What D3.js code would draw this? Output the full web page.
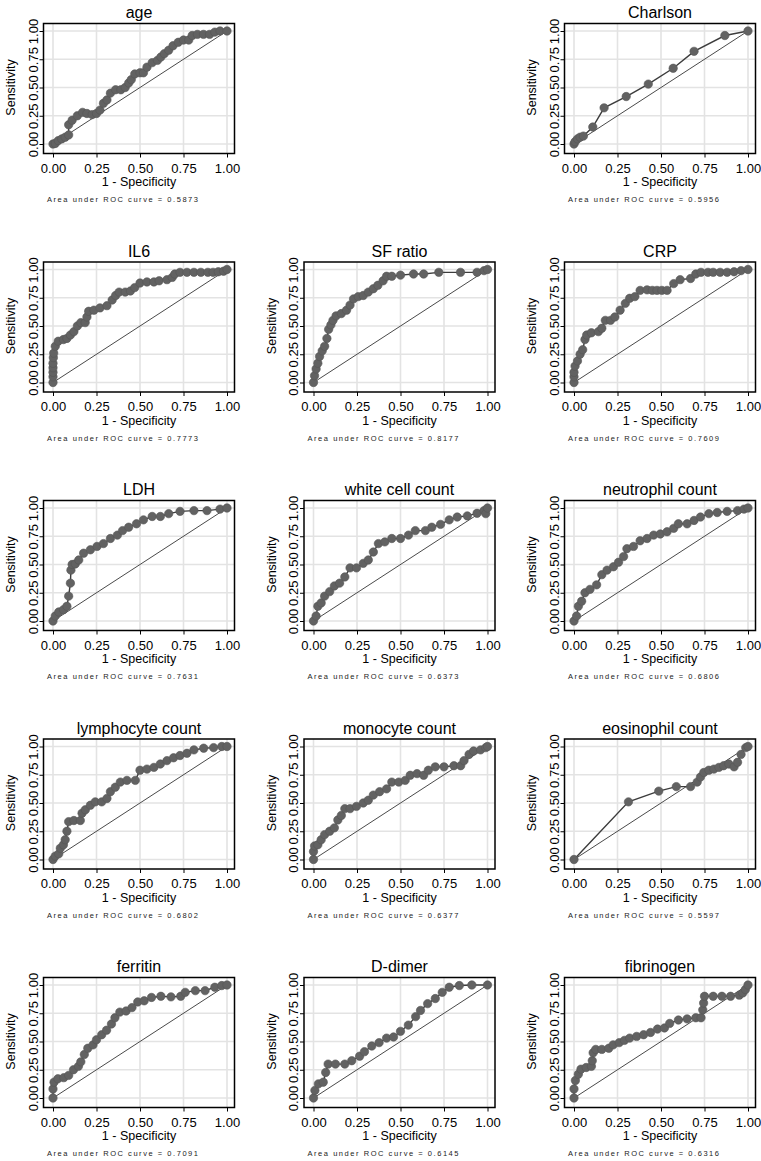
<!DOCTYPE html>
<html><head><meta charset="utf-8">
<script src="https://cdn.jsdelivr.net/npm/d3@7"></script>
<style>
html,body{margin:0;padding:0;background:#fff;}
text{font-family:"Liberation Sans",Arial,sans-serif;}
</style></head>
<body><svg id="chart" width="761" height="1161"></svg>
<script>
// ---- data: [1 - specificity, sensitivity] ----
const age = [[0,0],[0.013,0.005],[0.03,0.03],[0.05,0.045],[0.07,0.06],[0.09,0.08],[0.09,0.17],[0.11,0.21],[0.14,0.25],[0.17,0.28],[0.195,0.27],[0.225,0.26],[0.25,0.27],[0.27,0.30],[0.29,0.36],[0.31,0.39],[0.33,0.45],[0.36,0.48],[0.39,0.48],[0.415,0.50],[0.435,0.54],[0.45,0.57],[0.47,0.62],[0.50,0.63],[0.52,0.63],[0.54,0.68],[0.57,0.72],[0.60,0.74],[0.62,0.77],[0.64,0.80],[0.665,0.83],[0.69,0.87],[0.72,0.90],[0.75,0.92],[0.78,0.92],[0.80,0.96],[0.83,0.97],[0.865,0.97],[0.90,0.97],[0.93,0.99],[0.96,1],[1,1]];
const charlson = [[0,0],[0.006,0.02],[0.02,0.045],[0.035,0.06],[0.054,0.07],[0.108,0.15],[0.173,0.32],[0.30,0.42],[0.427,0.53],[0.57,0.67],[0.69,0.82],[0.867,0.96],[1,1]];
const il6 = [[0,0],[0,0.05],[0,0.09],[0,0.13],[0,0.17],[0.002,0.22],[0.004,0.26],[0.013,0.32],[0.03,0.365],[0.06,0.38],[0.08,0.39],[0.10,0.42],[0.12,0.45],[0.14,0.50],[0.16,0.53],[0.185,0.53],[0.195,0.58],[0.205,0.63],[0.235,0.64],[0.27,0.66],[0.31,0.68],[0.34,0.73],[0.36,0.77],[0.38,0.80],[0.415,0.80],[0.445,0.81],[0.47,0.84],[0.50,0.88],[0.54,0.89],[0.58,0.89],[0.61,0.90],[0.655,0.91],[0.685,0.93],[0.70,0.96],[0.73,0.975],[0.77,0.975],[0.81,0.975],[0.85,0.975],[0.89,0.975],[0.92,0.975],[0.95,0.98],[0.98,0.985],[1,1]];
const sfRatio = [[0,0],[0.006,0.06],[0.015,0.12],[0.025,0.17],[0.035,0.23],[0.05,0.28],[0.064,0.32],[0.077,0.39],[0.087,0.47],[0.10,0.51],[0.112,0.55],[0.13,0.59],[0.16,0.61],[0.19,0.64],[0.21,0.685],[0.23,0.74],[0.257,0.76],[0.286,0.77],[0.315,0.80],[0.344,0.83],[0.37,0.86],[0.40,0.90],[0.42,0.94],[0.45,0.94],[0.50,0.95],[0.575,0.96],[0.633,0.96],[0.72,0.975],[0.845,0.975],[0.94,0.975],[0.98,0.99],[1,1]];
const crp = [[0,0],[0,0.05],[0,0.09],[0.006,0.145],[0.02,0.19],[0.035,0.25],[0.05,0.29],[0.063,0.38],[0.073,0.42],[0.10,0.44],[0.14,0.45],[0.16,0.48],[0.18,0.55],[0.21,0.55],[0.235,0.58],[0.265,0.64],[0.295,0.70],[0.32,0.745],[0.35,0.76],[0.38,0.815],[0.42,0.82],[0.45,0.815],[0.477,0.815],[0.505,0.815],[0.535,0.815],[0.573,0.875],[0.61,0.91],[0.67,0.92],[0.70,0.96],[0.73,0.975],[0.77,0.975],[0.80,0.975],[0.84,0.975],[0.88,0.975],[0.92,0.98],[0.96,0.99],[1,1]];
const ldh = [[0,0],[0.013,0.044],[0.033,0.08],[0.06,0.10],[0.08,0.13],[0.09,0.22],[0.10,0.335],[0.103,0.45],[0.11,0.50],[0.128,0.505],[0.148,0.54],[0.176,0.60],[0.215,0.63],[0.253,0.66],[0.29,0.685],[0.33,0.73],[0.37,0.76],[0.40,0.80],[0.435,0.83],[0.48,0.86],[0.52,0.895],[0.57,0.925],[0.617,0.925],[0.665,0.95],[0.73,0.97],[0.81,0.977],[0.885,0.977],[0.96,0.99],[1,1]];
const whiteCell = [[0,0],[0.015,0.044],[0.025,0.13],[0.044,0.16],[0.064,0.22],[0.093,0.26],[0.12,0.31],[0.15,0.335],[0.18,0.39],[0.21,0.47],[0.247,0.47],[0.286,0.51],[0.315,0.54],[0.344,0.61],[0.373,0.685],[0.41,0.70],[0.45,0.73],[0.50,0.73],[0.546,0.76],[0.585,0.80],[0.643,0.80],[0.68,0.83],[0.73,0.855],[0.78,0.895],[0.826,0.92],[0.884,0.93],[0.94,0.953],[0.98,0.977],[0.99,0.95],[1,1]];
const neutrophil = [[0,0],[0.015,0.044],[0.025,0.13],[0.044,0.175],[0.063,0.25],[0.092,0.28],[0.13,0.32],[0.16,0.41],[0.19,0.45],[0.227,0.48],[0.256,0.52],[0.285,0.57],[0.304,0.64],[0.342,0.66],[0.38,0.71],[0.42,0.73],[0.458,0.76],[0.496,0.77],[0.535,0.79],[0.573,0.82],[0.60,0.86],[0.65,0.86],[0.69,0.89],[0.727,0.92],[0.775,0.95],[0.823,0.96],[0.88,0.97],[0.94,0.977],[0.977,0.99],[1,1]];
const lymphocyte = [[0,0],[0.013,0.03],[0.033,0.05],[0.042,0.10],[0.06,0.13],[0.07,0.175],[0.08,0.25],[0.09,0.335],[0.12,0.345],[0.157,0.345],[0.167,0.41],[0.186,0.44],[0.215,0.48],[0.243,0.51],[0.28,0.51],[0.31,0.54],[0.33,0.60],[0.358,0.64],[0.387,0.685],[0.425,0.70],[0.473,0.70],[0.50,0.79],[0.54,0.80],[0.58,0.815],[0.617,0.845],[0.655,0.875],[0.693,0.90],[0.73,0.92],[0.77,0.94],[0.81,0.97],[0.866,0.985],[0.923,0.99],[0.97,1],[1,1]];
const monocyte = [[0,0],[0,0.07],[0.006,0.12],[0.025,0.13],[0.044,0.175],[0.064,0.22],[0.093,0.25],[0.12,0.28],[0.14,0.35],[0.16,0.39],[0.18,0.45],[0.21,0.45],[0.247,0.47],[0.286,0.50],[0.315,0.525],[0.344,0.57],[0.38,0.60],[0.42,0.625],[0.45,0.685],[0.49,0.685],[0.527,0.70],[0.556,0.745],[0.595,0.76],[0.633,0.745],[0.66,0.79],[0.70,0.82],[0.75,0.82],[0.807,0.83],[0.846,0.83],[0.865,0.875],[0.894,0.93],[0.92,0.96],[0.96,0.97],[0.99,0.99],[1,1]];
const eosinophil = [[0,0],[0.313,0.51],[0.487,0.605],[0.588,0.645],[0.67,0.645],[0.708,0.685],[0.727,0.73],[0.746,0.77],[0.775,0.79],[0.804,0.80],[0.833,0.815],[0.86,0.83],[0.89,0.845],[0.92,0.82],[0.94,0.86],[0.96,0.93],[0.987,0.99],[1,1]];
const ferritin = [[0,0],[0,0.08],[0.006,0.14],[0.028,0.17],[0.062,0.18],[0.09,0.20],[0.118,0.25],[0.146,0.28],[0.16,0.32],[0.18,0.385],[0.20,0.44],[0.23,0.47],[0.25,0.515],[0.28,0.56],[0.308,0.60],[0.336,0.655],[0.356,0.71],[0.384,0.76],[0.42,0.77],[0.454,0.80],[0.487,0.85],[0.524,0.86],[0.566,0.89],[0.62,0.90],[0.678,0.895],[0.734,0.90],[0.76,0.935],[0.818,0.95],[0.874,0.95],[0.93,0.98],[0.97,0.995],[1,1]];
const dDimer = [[0,0],[0.008,0.067],[0.028,0.125],[0.056,0.14],[0.07,0.226],[0.084,0.30],[0.126,0.30],[0.18,0.30],[0.22,0.33],[0.265,0.37],[0.293,0.41],[0.335,0.46],[0.377,0.49],[0.42,0.53],[0.46,0.54],[0.50,0.59],[0.545,0.645],[0.587,0.72],[0.615,0.775],[0.656,0.835],[0.70,0.88],[0.74,0.935],[0.78,0.98],[0.838,0.995],[0.91,1],[1,1]];
const fibrinogen = [[0,0],[0,0.08],[0.008,0.155],[0.025,0.21],[0.04,0.255],[0.07,0.27],[0.1,0.28],[0.105,0.33],[0.11,0.40],[0.125,0.43],[0.16,0.43],[0.2,0.44],[0.225,0.47],[0.26,0.49],[0.29,0.51],[0.32,0.53],[0.36,0.545],[0.4,0.56],[0.44,0.58],[0.48,0.61],[0.52,0.62],[0.55,0.66],[0.6,0.69],[0.65,0.70],[0.7,0.71],[0.73,0.71],[0.74,0.78],[0.745,0.84],[0.75,0.90],[0.8,0.90],[0.85,0.90],[0.9,0.90],[0.95,0.91],[0.97,0.93],[0.985,0.96],[1,1]];

const titles = ["age","Charlson","IL6","SF ratio","CRP","LDH","white cell count","neutrophil count","lymphocyte count","monocyte count","eosinophil count","ferritin","D-dimer","fibrinogen"];
const aucs = ["0.5873","0.5956","0.7773","0.8177","0.7609","0.7631","0.6373","0.6806","0.6802","0.6377","0.5597","0.7091","0.6145","0.6316"];
const curves = [age,charlson,il6,sfRatio,crp,ldh,whiteCell,neutrophil,lymphocyte,monocyte,eosinophil,ferritin,dDimer,fibrinogen];
const slots = [0,2,3,4,5,6,7,8,9,10,11,12,13,14];
const ticks = [0,0.25,0.5,0.75,1];
const tickLabels = ["0.00","0.25","0.50","0.75","1.00"];

// ---- layout ----
const svg = d3.select("#chart");
const cellW = 260.5, cellH = 238.5;
const x0Left = 53, y1Top = 31, plotW = 174, plotH = 113;
const padL = 9.5, padR = 7.5, padT = 7.5, padB = 9.5;
const FONT = '"Liberation Sans",Arial,sans-serif';

curves.forEach((data, i) => {
  const slot = slots[i];
  const col = slot % 3, row = Math.floor(slot / 3);
  const ox = x0Left + col * cellW, oy = y1Top + row * cellH;
  const x = d3.scaleLinear().domain([0,1]).range([ox, ox + plotW]);
  const y = d3.scaleLinear().domain([0,1]).range([oy + plotH, oy]);
  const bx0 = x(0) - padL, bx1 = x(1) + padR, by0 = y(1) - padT, by1 = y(0) + padB;
  const g = svg.append("g");

  // grid
  g.selectAll(".gx").data(ticks).join("line").attr("class","gx")
    .attr("x1", d => x(d)).attr("x2", d => x(d)).attr("y1", by0).attr("y2", by1)
    .attr("stroke", "#e3e3e3").attr("stroke-width", 1.6);
  g.selectAll(".gy").data(ticks).join("line").attr("class","gy")
    .attr("y1", d => y(d)).attr("y2", d => y(d)).attr("x1", bx0).attr("x2", bx1)
    .attr("stroke", "#e3e3e3").attr("stroke-width", 1.6);

  // axes
  const xAxis = d3.axisBottom(x).tickValues(ticks).tickFormat((d,k) => tickLabels[k]).tickSize(4).tickPadding(6);
  const yAxis = d3.axisLeft(y).tickValues(ticks).tickFormat((d,k) => tickLabels[k]).tickSize(4).tickPadding(2);
  const gx = g.append("g").attr("transform", `translate(0,${by1})`).call(xAxis);
  gx.select(".domain").remove();
  gx.selectAll("text").attr("font-size", 13).attr("fill", "#000").attr("font-family", FONT);
  gx.selectAll("line").attr("stroke", "#000");
  const gy = g.append("g").attr("transform", `translate(${bx0},0)`).call(yAxis);
  gy.select(".domain").remove();
  gy.selectAll("line").attr("stroke", "#000");
  gy.selectAll("text").attr("font-size", 13).attr("fill", "#000")
    .attr("font-family", FONT)
    .attr("text-anchor", "middle").attr("dy", null)
    .attr("transform", "rotate(-90)")
    .attr("x", 0).attr("y", -6);

  // box
  g.append("rect").attr("x", bx0).attr("y", by0).attr("width", bx1 - bx0).attr("height", by1 - by0)
    .attr("fill", "none").attr("stroke", "#000").attr("stroke-width", 1.5);

  // diagonal reference
  g.append("line").attr("x1", x(0)).attr("y1", y(0)).attr("x2", x(1)).attr("y2", y(1))
    .attr("stroke", "#4a4a4a").attr("stroke-width", 1);

  // curve
  g.append("path").datum(data)
    .attr("d", d3.line().x(d => x(d[0])).y(d => y(d[1])))
    .attr("fill", "none").attr("stroke", "#3c3c3c").attr("stroke-width", 1.4);
  g.selectAll(".pt").data(data).join("circle").attr("class","pt")
    .attr("cx", d => x(d[0])).attr("cy", d => y(d[1])).attr("r", 4.2)
    .attr("fill", "#626262").attr("stroke", "#555").attr("stroke-width", 0.6);

  // texts
  g.append("text").attr("x", (bx0 + bx1) / 2).attr("y", oy - 13).attr("text-anchor", "middle")
    .attr("font-size", 16).attr("fill", "#000").text(titles[i]);
  g.append("text").attr("x", (bx0 + bx1) / 2).attr("y", y(0) + 42).attr("text-anchor", "middle")
    .attr("font-size", 12.5).attr("fill", "#000").text("1 - Specificity");
  g.append("text").attr("transform", `translate(${ox - 38},${(y(0) + y(1)) / 2}) rotate(-90)`)
    .attr("text-anchor", "middle").attr("font-size", 12.5).attr("fill", "#000").text("Sensitivity");
  g.append("text").attr("x", x(0) - 6).attr("y", y(0) + 58)
    .attr("font-size", 7.5).attr("fill", "#222")
    .attr("textLength", 151).attr("lengthAdjust", "spacing")
    .text("Area under ROC curve = " + aucs[i]);
});
</script></body></html>
